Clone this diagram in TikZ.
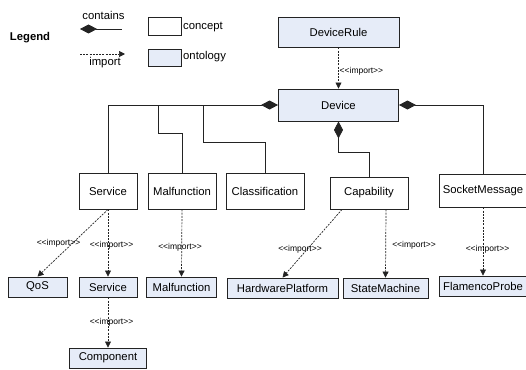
\documentclass[tikz,border=0pt]{standalone}
\usepackage{fontspec}
\setmainfont{Liberation Sans}
\usetikzlibrary{arrows.meta}

\definecolor{ontofill}{RGB}{230,236,248}
\definecolor{linegray}{RGB}{35,35,35}
\newcommand{\imptag}{<\kern0pt<import>\kern0pt>}

\tikzset{
  concept/.style={draw=linegray, line width=0.9pt, fill=white, inner sep=0pt,
    minimum height=36pt, font=\fontsize{11.3}{13}\selectfont},
  ontology/.style={concept, fill=ontofill, minimum height=20pt},
  contains/.style={draw=linegray, line width=0.8pt, {Diamond[length=17pt,width=9pt]}-},
  import/.style={draw=linegray, line width=0.7pt, dash pattern=on 2pt off 1.2pt,
    -{Triangle[length=6pt,width=6pt]}},
  stereo/.style={inner sep=0pt, font=\fontsize{8.5}{9}\selectfont},
  plain/.style={inner sep=0pt, font=\fontsize{11.3}{13}\selectfont},
}

\begin{document}
\begin{tikzpicture}[x=1pt,y=-1pt]
  \useasboundingbox (0,0) rectangle (526,369);

  % Legend
  \node[plain, font=\fontsize{11.3}{13}\selectfont\bfseries] (legend) at (30,38) {Legend};
  \node[plain] (containstxt) at (103.5,15) {contains};
  \coordinate (k1) at (80,29);
  \coordinate (k2) at (122,29);
  \draw[contains] (k1) -- (k2);
  \coordinate (k3) at (80,54);
  \coordinate (k4) at (125,54);
  \draw[import] (k3) -- (k4);
  \node[plain] (importtxt) at (105,63) {import};
  \node[concept, minimum width=33pt, minimum height=18pt] (conceptkey) at (164.5,26) {};
  \node[plain, anchor=west] (concepttxt) at (183,27) {concept};
  \node[ontology, minimum width=33pt, minimum height=17pt] (ontokey) at (164.5,57.5) {};
  \node[plain, anchor=west] (ontotxt) at (183,56.5) {ontology};

  % Top ontologies
  \node[ontology, minimum width=121pt, minimum height=30pt] (devicerule) at (338.5,32) {DeviceRule};
  \node[ontology, minimum width=120pt, minimum height=32pt] (device) at (338.5,105) {Device};

  % Concepts
  \node[concept, minimum width=58pt] (service) at (108,191) {Service};
  \node[concept, minimum width=68pt] (malfunction) at (182,191) {Malfunction};
  \node[concept, minimum width=78pt] (classification) at (265,191) {Classification};
  \node[concept, minimum width=78pt, minimum height=32pt] (capability) at (369,193) {Capability};
  \node[concept, minimum width=88pt, minimum height=33pt] (socketmsg) at (483,190.5) {SocketMessage};

  % Imported ontologies
  \node[ontology, minimum width=59pt] (qos) at (37.5,287) {QoS};
  \node[ontology, minimum width=58pt] (serviceonto) at (108,287) {Service};
  \node[ontology, minimum width=70pt] (malfonto) at (181.5,287) {Malfunction};
  \node[ontology, minimum width=111pt] (hwplatform) at (282.5,288) {HardwarePlatform};
  \node[ontology, minimum width=85pt] (statemachine) at (385.5,288) {StateMachine};
  \node[ontology, minimum width=88pt] (flamenco) at (483,286) {FlamencoProbe};
  \node[ontology, minimum width=77pt] (component) at (108,358) {Component};

  % Bends of the contains lines
  \coordinate (b1) at (158,105);
  \coordinate (b2) at (158,133);
  \coordinate (b3) at (203,105);
  \coordinate (b4) at (203,142);
  \coordinate (b5) at (338.5,152);

  \draw[contains] (device.west) -| (service.north);
  \draw[draw=linegray, line width=0.8pt] (b1) -- (b2) -| (malfunction.north);
  \draw[draw=linegray, line width=0.8pt] (b3) -- (b4) -| (classification.north);
  \draw[contains] (device.south) -- (b5) -| (capability.north);
  \draw[contains] (device.east) -| (socketmsg.north);

  % Imports
  \draw[import] (devicerule.south) -- (device.north);
  \node[stereo, anchor=west] (l0) at (339.5,71) {\imptag};
  \draw[import] (service.south) -- (qos.north);
  \node[stereo] (l1) at (58.5,243) {\imptag};
  \draw[import] (service.south) -- (serviceonto.north);
  \node[stereo] (l2) at (111.5,245) {\imptag};
  \draw[import] (malfunction.south) -- (malfonto.north);
  \node[stereo] (l3) at (180,247) {\imptag};
  \draw[import] ([xshift=-27pt]capability.south) -- (hwplatform.north);
  \node[stereo] (l4) at (300,249) {\imptag};
  \draw[import] ([xshift=17pt]capability.south) -- (statemachine.north);
  \node[stereo] (l5) at (414,245) {\imptag};
  \draw[import] (socketmsg.south) -- (flamenco.north);
  \node[stereo] (l6) at (487.5,249) {\imptag};
  \draw[import] (serviceonto.south) -- (component.north);
  \node[stereo] (l7) at (111.5,322) {\imptag};
\end{tikzpicture}
\end{document}
